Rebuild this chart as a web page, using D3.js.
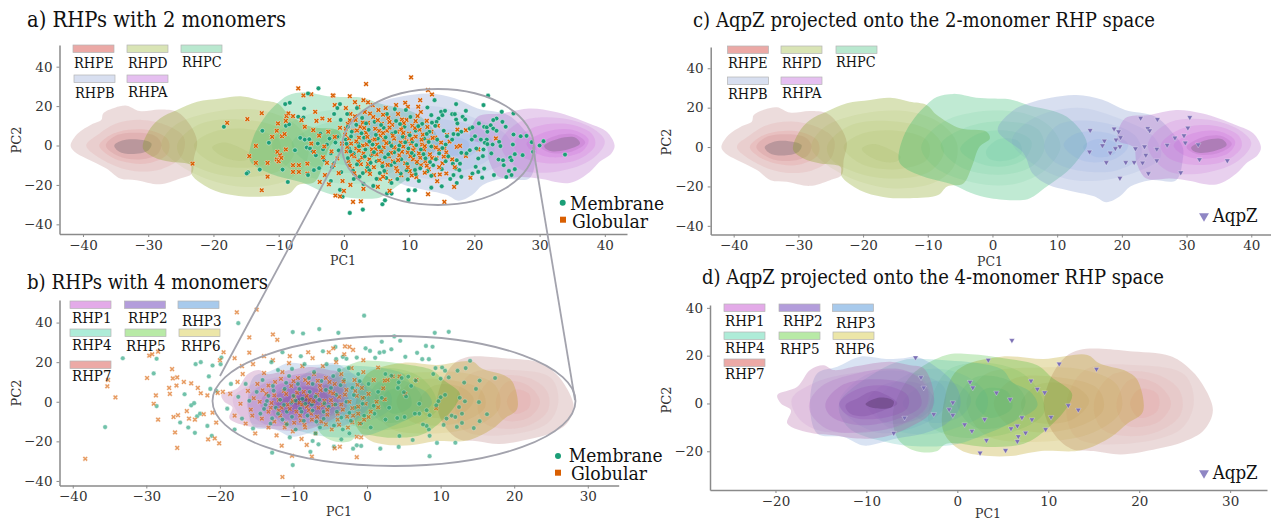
<!DOCTYPE html>
<html>
<head>
<meta charset="utf-8">
<title>RHP PCA</title>
<script src="https://cdnjs.cloudflare.com/ajax/libs/d3/7.8.5/d3.min.js"></script>
<style>
  html, body { margin: 0; background: #fff; overflow: hidden; }
  svg text { font-family: "DejaVu Serif", serif; fill: #111; }
  .tick text { fill: #333; font-size: 13.5px; }
  .tick line, .domain { stroke: #8a8a8a; }
  .domain { stroke-width: 1.5px; }
</style>
</head>
<body>
<div id="chart"></div>
<script>
// outer outlines and inner density levels, in PC1/PC2 units
const rhpeLevels = [
  [[-41.9,0],[-40.8,6.1],[-38.7,10.7],[-37.2,12.9],[-36.9,16.3],[-35.1,19.2],[-33.3,20.2],[-31.3,17.5],[-28.2,18.3],[-25.6,17.1],[-23.5,10],[-22.5,2],[-23,-6.6],[-23.3,-14.2],[-25.1,-16.8],[-28.2,-19.7],[-31.8,-17.6],[-34.3,-16.8],[-36.4,-11.7],[-39.5,-6.6],[-41.3,-3.2]],
  [[-39.5,0],[-37.5,6],[-35,11],[-31,13],[-27,10],[-24.5,4],[-25,-6],[-28,-12],[-32,-13],[-36,-9]],
  [[-37.5,0],[-36,5],[-33,8],[-29.5,7.5],[-27,3],[-27,-4],[-30,-9],[-34,-8],[-36.5,-4]],
  [[-36.5,0],[-35,5],[-32,6.5],[-29,5],[-28,1],[-28.5,-4],[-31,-7],[-34.5,-5.5]],
  [[-35.2,0],[-34,2.5],[-31.5,3],[-29.5,1],[-30,-2.5],[-32.5,-4.3],[-34.5,-3]]
];
const rhpdLevels = [
  [[-30.8,-1.5],[-30,7],[-28.2,13.7],[-25.6,18],[-22.5,22.2],[-18.9,23.9],[-15.8,25],[-12.8,23],[-10.2,21.4],[-8.6,16.3],[-5,9.5],[-0.9,7.8],[-0.4,4.4],[-2,0.2],[-3.2,-10],[-4.5,-18.5],[-7,-20],[-8.4,-24.4],[-12.8,-26],[-16.9,-25.3],[-20.5,-21.9],[-23.3,-15],[-23.5,-10],[-26.6,-8.3],[-29.2,-5.8]],
  [[-28,0],[-26,10],[-20,17],[-13,18],[-8,12],[-5.5,2],[-6,-10],[-9,-18],[-15,-21],[-21,-17],[-26,-8]],
  [[-25.5,1],[-22,11],[-15,13],[-9.5,8],[-7.5,-2],[-9.5,-12],[-15,-16],[-21,-13],[-25,-6]],
  [[-23,0],[-20,7],[-14,8],[-10,3],[-10,-6],[-14,-11],[-20,-9]],
  [[-20.2,-1],[-18.5,1.5],[-16,-1],[-14.2,-5],[-15,-7.5],[-18,-6.5]]
];
const rhpcLevels = [
  [[-14.5,-6.6],[-13.8,5],[-12,15],[-10.2,21.4],[-8.6,25.4],[-6,27],[-2.5,25],[0,24.6],[2.8,24.2],[5.4,21.4],[11.5,15.4],[14.6,1.9],[13.5,-5],[11.5,-12.5],[8.4,-20],[5.8,-26],[4.3,-27],[-0.3,-26],[-3.4,-23.2],[-6,-19.3],[-10.7,-15],[-13.8,-10]],
  [[-11,0],[-8,12],[-2,18],[5,17],[9,10],[10.5,0],[8,-12],[3,-19],[-3,-18],[-9,-10]],
  [[-8,1],[-4,10],[2,13],[7,9],[8,-1],[6,-10],[1,-14],[-5,-10]],
  [[-5,-1],[-2,7],[3,8],[6,3],[5,-6],[1,-10],[-3,-7]],
  [[-1,-2],[1,4],[4,3],[4.5,-3],[2,-7],[-0.5,-6]]
];
const rhpbLevels = [
  [[0.8,8.6],[3.3,18.8],[5.4,22],[9,25],[13,26.4],[17,24],[20.5,18.8],[25.2,15.4],[27.9,7],[29.4,0],[29.4,-6.6],[28.4,-16.8],[24.4,-16.8],[21.3,-20],[19.7,-25],[17.6,-28],[15.7,-25],[11.6,-21.9],[8.7,-19.3],[6.2,-13.4],[4.8,-3.2]],
  [[3,3],[6,14],[13,20],[20,14],[25,5],[26,-5],[21,-14],[13,-17],[7,-10]],
  [[8,1],[10,11],[16,13],[22,6],[23,-4],[19,-12],[12,-11],[9,-6]],
  [[11,1],[13,7],[18,7],[21,1],[19,-6],[14,-7]],
  [[14,0],[16,4],[19,2],[19,-3],[16,-5]]
];
const rhpaLevels = [
  [[41.5,0],[40.3,7],[37.6,11.2],[32.5,17],[28.4,18.8],[24.3,16.3],[20.5,14.6],[19.4,3.5],[21.8,0],[22.3,-8.3],[23.8,-16],[27.4,-16],[29.9,-16.8],[34.6,-19],[37.7,-13.4],[39.2,-8.3],[41,-4]],
  [[24,1],[27,12],[33,14],[38,9],[40,2],[38,-7],[33,-13],[27,-12]],
  [[26,1],[29,9],[34,11],[38,6],[38.5,0],[36,-7],[31,-9],[27,-5]],
  [[28,1],[31,7],[35,8],[37.5,3],[36.5,-3],[32,-6],[29,-3]],
  [[30,0],[32.5,5],[35.5,5.5],[37,1.5],[35,-3],[31.5,-3.5]],
  [[30.7,-0.3],[33,3.5],[35.5,4],[36.2,1],[34,-2.3],[31.5,-2.7]]
];
const rhp7Levels = [
  [[13.4,22.4],[15,23],[18.7,22],[23.4,19.9],[25.3,15.4],[26.9,8.4],[28.1,-2.8],[27.1,-11.2],[24.9,-16],[22,-18.9],[18,-21.3],[15,-19.9],[12.5,-18.9],[10.6,-12.6],[9.5,-1.4],[10.3,11],[11.9,19.6]],
  [[12,0],[14,14],[20,16],[25,12],[26,0],[24.5,-11],[18,-17],[13,-14]],
  [[15,0],[17,12],[22,12],[24.5,5],[24.5,-5],[21,-13],[16,-11]],
  [[17.5,0],[19,10],[22,8],[23.5,0],[22,-8],[18.5,-9]],
  [[19,0],[20,6],[22,4],[22,-3],[20,-6]]
];
const rhp6Levels = [
  [[-1.5,0],[0,14],[4.8,19.6],[9.5,18.6],[14.3,20.3],[15.6,16.8],[18.7,13.3],[19.8,9.8],[20.4,-3.5],[18.7,-8.4],[16.9,-14],[13.6,-19.6],[9.2,-19.9],[5.9,-22],[2.6,-21.7],[0.4,-19.6],[-1.5,-12]],
  [[1,0],[3,12],[9,15],[14,14],[17.5,8],[18,-3],[15,-12],[9,-16],[3,-13]],
  [[4,0],[6,10],[11,11],[15.5,6],[16,-3],[12,-11],[6,-10]],
  [[7,0],[9,8],[13,7],[14.5,1],[12.5,-7],[8,-7]]
];
const rhp5Levels = [
  [[-7,-2],[-5,12],[-1.2,20.3],[1.5,20.6],[5.1,18.9],[8.8,16],[10.3,11.2],[12.6,4.2],[12.1,-1.4],[9.7,-11.2],[7.3,-16.8],[3.3,-18.2],[-1.2,-16.8],[-2.3,-20],[-4.5,-20],[-6.3,-16],[-7,-10]],
  [[-3,0],[-1,14],[3,17],[7,13],[9,5],[9.5,-4],[6,-12],[0,-14],[-3,-9]],
  [[0,0],[2,11],[6,9],[7.5,1],[6,-8],[2,-10]],
  [[2,0],[3,6],[5.5,5],[6,-2],[3.5,-6]]
];
const rhp4Levels = [
  [[-13,0],[-9,13],[-5.9,18.2],[-3.7,18.6],[-1,18],[2,17],[5,14],[6,9],[8,5],[8.8,-1],[6,-8],[3,-13],[0,-17],[-4,-18],[-8,-16],[-12,-10]],
  [[-9,0],[-5,13],[-1,14],[2,9],[3.3,3],[3,-4],[0,-10],[-4,-13],[-8,-9]],
  [[-6,0],[-3,9],[0,8],[1.5,2],[0.5,-5],[-3,-8]]
];
const rhp3Levels = [
  [[-16.2,0],[-15.4,12.6],[-13.2,15.4],[-10.7,19.6],[-7.8,18.6],[-5.9,18.9],[-4.6,19.6],[-3,17],[-0.1,7],[0.3,-1.4],[-1.2,-8.4],[-3.7,-12.6],[-6.7,-14.7],[-9.6,-17.5],[-10.5,-17.5],[-12.5,-14],[-15.4,-12.6]],
  [[-13,0],[-10,12],[-5,13],[-1.5,7],[-1.5,-2],[-4,-9],[-9,-12]],
  [[-10,0],[-8,8],[-4,8],[-2.5,1],[-4,-6],[-8,-8]]
];
const rhp2Levels = [
  [[-16.3,0],[-15,7],[-11,12.6],[-5.9,14],[-3.4,7],[-3.4,-1.4],[-5.9,-8.4],[-9.6,-11.9],[-14,-11.2],[-16,-5]],
  [[-14.5,0],[-12.5,8],[-8,10],[-4.5,6],[-4,-1],[-7,-7],[-11,-9],[-14,-5]],
  [[-13,0],[-11,6],[-8,7.5],[-5.5,3.5],[-5.5,-2],[-9,-6.5],[-12,-5]],
  [[-12.3,-0.7],[-11,2.1],[-9.2,5.2],[-7.8,3.5],[-6.6,0],[-8.1,-2.8],[-10.3,-5.3],[-11.8,-4.2]],
  [[-10.1,-0.3],[-8.5,2.5],[-7,1],[-7.2,-1.5],[-9,-2]]
];
const rhp1Levels = [
  [[-19.8,3.5],[-17.6,7],[-16.2,14],[-14.7,16],[-13.6,14],[-11,15.7],[-7.4,17.5],[-5.2,16],[-3.7,14.7],[-2.6,4.2],[-3,-4.2],[-5.2,-9.8],[-8.1,-14],[-11,-14.7],[-13.6,-13.3],[-15.8,-12.6],[-18.7,-8.4],[-18.3,-2.8],[-19.4,0]],
  [[-18.2,2],[-15.5,9],[-11,13],[-6,14],[-3.3,8],[-3.3,-2],[-6,-9],[-11,-12],[-15.5,-11],[-17.5,-6]]
];

const twoMerNames = ["RHPE", "RHPD", "RHPC", "RHPB", "RHPA"];
const twoMerLevels = [rhpeLevels, rhpdLevels, rhpcLevels, rhpbLevels, rhpaLevels];
const twoMerSwatch = ["#eba9a6", "#d9e4b5", "#b9e8cf", "#d8dff0", "#e5bff0"];
const twoMerRamps = [
  ["#c08a8a", "#e87a7a", "#e86a6a", "#605868"],
  ["#809e12", "#809e12", "#78901a"],
  ["#1cb262", "#1cb262", "#20a880"],
  ["#7d95cd", "#7098e0", "#6090e8"],
  ["#b262c6", "#d058e0", "#d048e0", "#605868"]
];
const twoMerOuter = [0.3, 0.3, 0.28, 0.3, 0.3];
const twoMerInner = [0.15, 0.07, 0.08, 0.11, 0.17];
const fourMerNames = ["RHP1", "RHP2", "RHP3", "RHP4", "RHP5", "RHP6", "RHP7"];
// painted back to front
const fourMerOrder = ["RHP7", "RHP6", "RHP5", "RHP4", "RHP3", "RHP1", "RHP2"];
const fourMerLevels = { RHP1: rhp1Levels, RHP2: rhp2Levels, RHP3: rhp3Levels, RHP4: rhp4Levels, RHP5: rhp5Levels, RHP6: rhp6Levels, RHP7: rhp7Levels };
const fourMerSwatch = ["#e3aae8", "#b39ddb", "#a8caec", "#aeecd8", "#b8eaa6", "#ece6a8", "#eca9a6"];
const fourMerRamps = {
  RHP7: ["#bc8484", "#e87070", "#e86060"],
  RHP6: ["#b29800", "#b08a10", "#a87a20"],
  RHP5: ["#12ac00", "#10a830", "#109a50"],
  RHP4: ["#1eaa9a", "#2098a0", "#3080b0"],
  RHP3: ["#5f8acd", "#4a7cc8", "#4070c0"],
  RHP2: ["#a050b8", "#9040b0", "#8838b0", "#3a2048"],
  RHP1: ["#b262a5", "#b868c8"]
};
const fourMerOuter = { RHP7: 0.3, RHP6: 0.28, RHP5: 0.22, RHP4: 0.2, RHP3: 0.24, RHP1: 0.3, RHP2: 0.16 };
const fourMerInner = { RHP7: 0.08, RHP6: 0.08, RHP5: 0.08, RHP4: 0.08, RHP3: 0.09, RHP2: 0.2, RHP1: 0.12 };

const greenAEdge = [[-18.4,9.5],[-12.5,7.5],[-11.5,1.4],[-14.7,-13.6],[-14.9,-14.2],[-12.9,-12.2],[-9.4,-12.2],[-8.6,-18.5],[-8.3,21.7],[-9,21],[-5.5,26.4],[-3.9,29],[-8.9,10],[-8.4,10.7],[-7,14.6],[-6.1,18.8],[-6.2,14.2],[-6.7,3.9],[-7.5,-2.4],[-6,3],[-5.3,3.2],[-5.7,-1],[-5.2,-1.5],[-4.8,-3],[-4.3,-5],[-4,1],[-3.6,6],[-3.2,-2],[-3,-7.5],[-2.6,0.5],[-2.2,3.5],[-2,-4],[-1.5,-9],[-1.3,1.5],[-1,4.5],[-0.8,-2.5],[-0.5,13],[-0.4,-13.5],[-1.8,-11],[-3.8,-11.5],[-4.6,-12.5],[-5.5,-15],[-2,-18],[-0.6,-22.5],[-0.2,-26],[-1,19],[-0.6,21],[-1.5,16],
[22.1,25.3],[21.4,20.5],[24.2,17.1],[26,16.3],[17.2,21],[13.9,23],[12.8,19.3],[18.7,17.6],[0.9,-34.2],[2.9,-32.5],[5.9,-29.8],[6.3,-27.8],[9.9,-27.6],[6.6,-24.4],[7.3,-24.4],[9.9,-22.7],[10.9,-22.7],[13.4,-21.4],[15,-20.7],[17.3,-19],[30.6,2.2],[30,0],[28.8,1.7],[29,-3.2],[33.9,-4.6],[28,4.9],[27.1,4.7],[26,5.6],[27.4,-4.9],[26.2,-4.4],[25.9,0.5],[26.2,-12],[25.7,-15],[24.9,-16],[25.3,-12.9],[23,-15],[24.8,9.5],[24.3,12],[23.4,13.7],[22.9,12.9],
[14.9,17.1],[15.5,17.6],[15.1,15.4],[13.4,15.4],[14.5,13.7],[14.2,12],[16.6,15.9],[17,15.9],[18.2,14.6],[18.6,13.2],[17.2,13.2],[17.4,11.2],[20.7,11.2],[21.5,9.5],[21.9,9.2],[22.5,10.3],[22.9,8.6],[22,7],[23.4,7.5],[19.3,8.6],[19.7,9.2],[18,7],[16.8,5.8],[17.5,5.6],[20.1,4.7],[19.6,3],[21,3],[21.9,3],[23.8,1.9],[21.6,1.4],[22,0.7],[24,-0.3],[22.8,0.5],[20.3,-1.5],[19.3,-2.4],[18,-3.7],[18.8,-4],[21.4,-2],[22.6,-4],[21.3,-5.4],[20.6,-6.6],[23.7,-7.1],[24.4,-7.5],[24.5,-10],[25.5,-6.1],[25.7,-7.5],[21.5,-11.7],[20.2,-10.8],[20.6,-13.4],[19.7,-14.2],[21.2,-16.3],[17.3,-7.5],[17.8,-9.2],[16.7,-9.2],[17.2,-11.7],[17.7,-12.5],[16.8,-15],[18,-15.9]];
const greenACore = [[0.3,3],[0.8,-1.5],[1.2,7],[1.5,-4],[1.9,10.5],[2.2,1],[2.4,-7.5],[2.8,14],[3.1,4],[3.3,-2],[3.6,-11],[3.8,8],[4.2,-5],[4.4,0.5],[4.7,12],[5,-8],[5.2,3.5],[5.5,-14],[5.8,-2.5],[6.1,9],[6.3,-6],[6.6,16],[6.9,1.5],[7.2,-10],[7.4,6],[7.7,-3.5],[8,12.5],[8.2,-17],[8.5,0],[8.8,-7],[9,4.5],[9.3,9.5],[9.6,-12.5],[9.9,-1.5],[10.2,14.5],[10.5,2],[10.7,-5],[11,7.5],[11.2,-9],[11.5,-18],[11.8,-2],[12,11],[12.3,3.5],[12.5,-6.5],[12.8,-13],[13.1,7],[13.4,-0.5],[13.7,-10],[14,10],[14.3,3],[14.6,-4],[15,-12],[15.3,7.5],[15.6,0.5],[16,-5.5],[16.3,-17],[16.6,3],[1.5,-17],[3,-19.5],[0.5,16],[2,19],[4.5,-20.5],[0.8,-10],[6.5,-16.5],[2.9,-14],[7.8,18.5],[9.5,18],[11,-14.5],
[0.6,9.5],[3.4,11.2],[5.7,10.4],[8.6,10.9],[11.4,9.8],[13.5,11.6],[1.1,4.6],[2.7,6.2],[4.9,5.4],[6.4,4.1],[7.9,6.8],[10.1,5.2],[12.7,5.9],[15.8,4.7],[0.4,0.9],[2.3,-0.4],[3.9,2],[5.4,-0.8],[7.3,-0.2],[9.4,1.6],[11.1,0.2],[13,1.8],[15.1,-1.3],[1,-3],[3.2,-5.6],[4.6,-3.4],[6.8,-4.5],[8.4,-2.2],[10.4,-3.8],[12.2,-4.4],[14.1,-7],[0.6,-6.4],[2,-9.6],[4.1,-8.8],[5.9,-10.6],[7.8,-8.6],[9.7,-9.4],[11.7,-11.6],[13.2,-8.4],[15.6,-8],[1.4,-12.8],[3.9,-12.6],[6.2,-12.9],[8.7,-14.2],[10.9,-12.4],[13.4,-15.4],[2.4,-15.8],[5,-16.9],[7.3,-19],[9.8,-17.2]];
const orangeAEdge = [[-17.9,11.5],[-14.8,13.4],[-12.6,16.4],[-7,29],[-6.2,25.4],[-5,26],[-1.6,25.3],[-13.5,-0.2],[-14.5,-5.4],[-13.5,-8.8],[-11.7,-8.8],[-11.7,-15.8],[-12.6,-22.7],[-23.2,-9.2],[-11,4.4],[-10.3,7.5],[-10.1,11.2],[-9.5,4.7],[-9.1,5.8],[-10.2,-3.2],[-9.8,-4.9],[-10.3,-7.1],[-10,-8],[-9.6,-6.3],[-8.8,14.9],[-8.5,16.3],[-8.9,12.5],[-7.8,14.9],[-7.8,-10],[-6.9,-10],[-7.8,-13.4],[-6.9,-13.4],[-8.9,-2],[-6.5,12.9],[-6,9.5],[-5.6,-9.2],[-5.6,-14.2],[-4.4,17.1],[-4.2,12.5],[-3.3,13.7],[-2.2,12.9],[-1.4,20.5],[-3.7,-18.5],[-2.3,-19.7],[-1.3,-25.4],[-2.9,-15],[-4.7,7.8],[-5,1],[-4.6,-3.2],[-3.2,-6],[-1.6,-10],[-1.4,4.4],[-3.8,5],[-3,-0.5],[-2.4,7],[-1.9,-3],[-1,-6.5],[-0.6,9],[-0.3,1],[-0.8,-14],[-2.6,-8.8],
[3.4,31.2],[10.3,34.6],[12.9,28.1],[13.5,25.9],[11.7,23],[9.4,21.7],[9.8,19.7],[11.4,19.7],[11.8,17],[-1.7,25.4],[0.9,25],[1.7,22],[3,23],[3.7,21.9],[15.4,-28.6],[12.9,-24.7],[1.4,-28.6],[2.6,-28.3],[-0.6,-25.8],[16.9,-21],[19.4,-16.3],[14.3,-18.1],[15.7,-14.2],[14.7,-14.7],[17.4,8.1],[18.7,7.8],[20.6,-2],[23.3,3.6],[18.7,-5.3],[15.8,-5.8],[17.3,-0.7],[17.8,-0.2],[15.8,5.3]];
const orangeACore = [[0.2,5.5],[0.4,-3],[0.6,11],[0.7,-8],[1,16],[1.1,1],[1.3,-12],[1.4,7.5],[1.6,-5.5],[1.8,13],[1.9,-1.5],[2.1,-16],[2.3,4],[2.5,9.5],[2.6,-9.5],[2.9,0],[3,-4],[3.2,17],[3.4,6.5],[3.5,-13],[3.7,11.5],[3.9,-7],[4.1,2.5],[4.3,-2],[4.5,14.5],[4.6,-11],[4.8,8.5],[5,-4.5],[5.1,0.5],[5.3,18],[5.5,-17],[5.6,5],[5.8,11],[5.9,-9],[6.1,-1],[6.2,3],[6.4,-13.5],[6.6,7.5],[6.8,14],[6.9,-5.5],[7.1,-18],[7.2,0.5],[7.4,10.5],[7.5,-8],[7.7,3.5],[7.9,-2],[8,-11.5],[8.2,7],[8.3,16],[8.5,-5],[8.7,1.5],[8.8,-15],[9,9.5],[9.1,-0.5],[9.3,4],[9.4,-9],[9.6,13],[9.8,-3.5],[10,6],[10.1,-13],[10.3,1],[10.5,10],[10.6,-7],[10.8,-1],[11,4.5],[11.1,-16],[11.3,15],[11.5,-4],[11.6,8],[11.8,-10],[12,0.5],[12.1,5.5],[12.3,-2],[12.5,-8],[12.7,12.5],[12.9,2.5],[13,-12],[13.2,-4.5],[13.4,7],[13.6,-0.5],[13.8,-15],[14,4],[14.2,-6.5],[14.4,10],[14.6,-2],[14.9,1.5],[15.1,-9],[15.4,-1.5],[15.7,-3.5],[16.2,2],[16.6,-7],[17,-11],[-0.2,-18],[1,-20],[3,-22],[5.2,-21],[7,-23],[0,-23],[2.2,19.5],[4.4,20.5],[6.4,19],[8,20.5],[0.3,19],
[1.7,14.8],[4,16.2],[6,15.6],[8.9,13.2],[0.9,12.8],[2.9,11.6],[5.2,12.9],[7,11.9],[9.2,11.4],[11,12.4],[0.3,8.6],[2,7.6],[3.1,8.9],[5.4,7.4],[7,9.1],[8.8,8.1],[10.9,8.9],[12.8,9.4],[0.8,3.6],[1.9,2.1],[3.6,4.4],[4.7,3.1],[6,6.3],[7.5,5],[9.1,6.4],[10.4,3.4],[11.9,3],[13.6,3.9],[0.5,-0.7],[2.3,-2.6],[3.5,0.6],[4.9,-1.8],[6.5,1.2],[7.7,-0.9],[9.6,2.1],[10.6,-2.4],[12.4,-0.3],[14.1,-1],[1.2,-4.7],[2.8,-6.1],[4.4,-4.2],[5.7,-3.1],[7.2,-3.7],[8.9,-3.2],[10.2,-5.4],[11.7,-6.2],[13.5,-6.4],[15.3,-5.6],[0.9,-10.3],[2.2,-8.1],[3.7,-9.4],[5.4,-7.6],[6.7,-9.8],[8.3,-7.4],[9.8,-11.1],[11.2,-8.3],[12.7,-10.2],[14.6,-11],[1.6,-14.1],[4,-14.4],[6,-15.8],[8.2,-13],[10.4,-15.2],[12.4,-13.8]];

const greenBEdge = [[-17.5,39.7],[-33.2,22],[-35.6,-12.8],[-29,14.3],[-28.6,-2.2],[-28.6,21.7],[-24.8,3.8],[-25.4,-10.5],[-24.3,-13],[-23.4,-15.7],[-23.9,-1.8],[-23.5,-0.7],[-23.1,-7.3],[-22.7,-6],[-23.3,19],[-22.6,20],[-21.5,12.8],[-21,18.3],[-19.8,22.3],[-19.9,19],[-21.3,6.5],[-20.5,5.5],[-21.7,-12.2],[-21.1,-17.2],[-10.1,35.2],[-8.7,34.5],[-6.5,36.7],[-3.9,34.8],[-12.9,-25.7],[-10.1,-32],[-7.7,-25.3],[-6.6,-21.5],[-7.4,-19.8],[-4.5,-22.7],
[-0.4,43.5],[9.2,34.8],[11.1,35.3],[3.7,33],[2,30.3],[4.5,30.8],[8,28.2],[8.9,27.8],[6.8,24.7],[7.5,21.5],[8.4,21.5],[5.2,22.7],[3.3,26.5],[2.3,25.2],[1.7,24.8],[0.4,25.7],[-0.2,27],[1.1,22.2],[-1.4,22.3],[-2.8,21.7],[-3.3,22.7],[-4.2,21.5],[-4.3,27.7],[14,20.7],[17.4,12],[15.3,10.7],[14.8,6.5],[13.4,17],[12.3,15.7],[10.2,17.3],[10.6,15.7],[9.3,17],[11.1,12.3],[10,11.7],[13.2,9.7],[15.2,-0.2],[13.3,0.2],[12.6,2],[12.5,-2.7],[12.9,-6],[16.3,-6.3],[15.3,-9.8],[14.5,-13.3],[12.9,-10.7],[12.2,-12.7],[10.4,-11.7],[10.8,-8.5],[11.5,-7],[12,-7.7],[12,-20.7],[9.5,-20.8],[8.5,-27.5],[4.3,-22.8],[1.8,-23.7],[-0.8,-22.3],[-1.4,-22],[-1.9,-23.7],[6.2,-19.3],[4.4,-17.3],[8.5,-17.2],[8.4,-14],[8.1,-12.2],[7.6,-11.5],[10.6,3.5],[10,2.3],[9.4,-1.8],[9.7,0.3],[8.1,-4.3],[8.5,-6.8],[7.1,-6],[6.5,-6],[5.1,-7.7],[4.1,-8.2],[7.1,-1],[5.3,2.7],[5,4.8],[5.6,12.7],[4.7,12],[4.2,7],[4.3,9.8],[3.3,13.2],[6,8],[6.6,10.7],[9,14],[2.5,14]];
const greenBCore = [[3,-3],[2.5,-9],[1.5,5],[1,-6],[0.5,-13],[0.2,9],[-0.4,2],[-0.8,-11],[-1.2,14],[-1.6,-3],[-2,7],[-2.4,-16],[-2.8,0],[-3.1,11],[-3.5,-8],[-3.8,16],[-4.2,3.5],[-4.5,-12],[-4.9,7],[-5.2,-2.5],[-5.5,19],[-5.9,-5],[-6.2,10.5],[-6.5,1],[-6.9,-10],[-7.2,15],[-7.5,-1.5],[-7.8,5],[-8.1,-7],[-8.5,19],[-8.8,1.5],[-9.1,-3.5],[-9.4,9],[-9.7,-14],[-10,3],[-10.3,-0.5],[-10.6,13],[-10.9,-5],[-11.2,6.5],[-11.5,-9],[-11.8,1],[-12.1,16],[-12.4,-3],[-12.8,8],[-13.1,-11],[-13.4,3],[-13.8,-1.5],[-14.2,11],[-14.5,-6],[-15,5],[-15.5,-13.5],[-16,0.5],[-16.5,9],[-17,-8.5],[-17.5,2.5],[-18,-14],[-18.5,9],[-19,-3.5],[-13,20],[-9,23],[-6,25.5],[-11.5,25],[-3.5,-19],[-7,-16],[-10.5,-18],
[-12.7,5.6],[-11,9.6],[-9.2,6.4],[-7.4,9],[-5.6,6],[-3.6,8.4],[-1.8,3.4],[-13.6,0.4],[-11.3,-1.6],[-9.7,0.6],[-8.4,-1],[-7,2.6],[-5.8,-0.8],[-4.3,-1.4],[-2.4,-5.6],[-0.6,-1],[-14,-3.6],[-12.1,-6],[-10.2,-7.6],[-8.9,-5],[-7.4,-4.4],[-5.9,-8.6],[-4.1,-5],[-2.2,-9.6],[-0.4,-7],[-12.9,-8.4],[-10.9,-11.4],[-8.6,-9.6],[-6.4,-13],[-3.3,-14],[0.9,-2],[2,2],[-1,10.4],[-7.9,12],[-4.6,13],[-2.5,17],[-10.2,16.6]];
const orangeBEdge = [[-38.3,-28.8],[-34.2,2.2],[-35.3,7.8],[-35.2,11],[-29.9,12],[-29.6,23.3],[-29.2,24],[-28.4,25.3],[-28.7,3.2],[-29,-1],[-28.4,-9],[-26.5,16.5],[-26.4,11.8],[-25.8,12.3],[-25.9,8.2],[-26.9,7],[-26.8,4],[-24.9,10],[-23.9,9.3],[-23,7],[-22.6,4.3],[-21.7,3.2],[-26.3,-7.7],[-25.7,-6.8],[-26.1,-15.5],[-25.8,-23.3],[-24.2,-8.5],[-24.5,-4.7],[-23.4,-9],[-22.2,-6.3],[-21.6,-19],[-20.7,-18.5],[-20.1,-21],[-20.5,-10.5],[-21,-5.5],[-17.7,45.2],[-15,46.5],[-16,32.5],[-16,24.8],[-12.8,34],[-12.2,31.3],[-11.5,-38],[-10.2,-27.3],[-7.5,-27.7],[-11.6,-22.2],[-8.9,-18.8],[-8.2,-21.8],[-20,21],[-19.5,25],[-18,22],[-20.3,4.5],[-19.6,5],
[6.7,11],[5.2,4],[9.4,-3.3],[2.8,11],[2.4,10.7],[3.5,12.8],[4.4,12.8],[1.5,17.3],[2.2,6.8],[2.4,1.2],[1.5,-2.8],[0.2,-7.7],[-1.4,-17.7],[-0.8,-18],[-1.4,-28],[-3.7,-22.7],[-4.4,-23.5],[-2.4,27.7],[-1.9,26.2],[-4.6,27]];
const orangeBCore = [[-18.6,4],[-18,-7],[-17.6,10],[-17.2,-1],[-16.9,14],[-16.5,-11],[-16.2,5.5],[-15.8,-4],[-15.5,19],[-15.2,-16],[-14.9,9],[-14.6,0],[-14.3,-8.5],[-14,14.5],[-13.7,4],[-13.4,-13],[-13.1,-3],[-12.8,21],[-12.5,10],[-12.3,-17],[-12,1],[-11.8,-7],[-11.5,15],[-11.3,5.5],[-11,-11],[-10.8,-1.5],[-10.6,19.5],[-10.3,8],[-10.1,-15],[-9.9,2.5],[-9.6,-5],[-9.4,12],[-9.2,-0.5],[-9,-9.5],[-8.8,18],[-8.6,5],[-8.4,-13],[-8.2,-2.5],[-8,9.5],[-7.8,1],[-7.6,-6],[-7.4,22],[-7.2,14],[-7,-16],[-6.8,3.5],[-6.6,-3],[-6.4,8],[-6.2,-10],[-6,18],[-5.8,0.5],[-5.6,12],[-5.4,-6.5],[-5.2,25],[-5,5],[-4.8,-14],[-4.6,-1.5],[-4.4,9],[-4.2,20],[-4,-9],[-3.8,2.5],[-3.5,14],[-3.3,-4],[-3.1,24],[-2.8,6],[-2.6,-13],[-2.4,0],[-2.1,17],[-1.9,-7],[-1.7,11],[-1.4,3],[-1.2,-2.5],[-1,-11],[-0.7,7],[-0.5,15],[-0.2,-1],[0.2,4],[0.5,-5],[0.9,11],[1.3,0],[-17,18],[-14,23],[-10.5,23],[-8,25],[-3,28],[-0.5,21],
[-13.4,8.2],[-11.7,11.6],[-10,10.4],[-8.4,11],[-6.7,10.6],[-5.1,10],[-3.2,10.2],[-1.3,8.6],[-14.2,5.8],[-12.6,3.2],[-11,3.9],[-9.5,4.6],[-8.2,3],[-6.3,5.9],[-4.6,4.2],[-3,3.6],[-1.6,5.4],[-15.4,1.8],[-13,-0.6],[-11.6,-3],[-10.1,0.4],[-8.8,-1.4],[-7.3,0.2],[-6,-1.6],[-4.9,0.8],[-3.5,-1.4],[-2,-3.2],[-0.6,2],[-15.6,-7],[-13.4,-5],[-12,-4.4],[-10.5,-3.6],[-9.1,-7],[-7.9,-4.2],[-6.8,-7.6],[-5.4,-4],[-4,-6],[-2.7,-7.5],[-1.2,-6],[-12.6,-10],[-11.2,-13],[-9.9,-10.6],[-8.5,-11.6],[-7.5,-9],[-5.6,-11.4],[-3.8,-11.6],[-2,-10.4],[-0.4,-9]];

const aqpzC = [[15.1,8.5],[18.8,9.3],[19.5,7.8],[22.9,14.7],[25.5,14.1],[30.5,15.1],[30.2,9.7],[24,9.5],[24.3,8.3],[29.6,5.8],[28.2,4.7],[19.8,4.9],[19.1,3.7],[17.3,3.1],[17,0.8],[19.7,0.2],[19,-0.7],[22.1,-0.8],[23.5,0.2],[25.4,-1],[27,1],[29.8,2.2],[31.8,1.2],[15,-2.4],[18.2,-2.9],[23.7,-4.1],[17.6,-7.8],[20.6,-7.8],[21.9,-7.8],[23.2,-8],[25.4,-6.9],[32,-6.3],[36.3,-6.9],[24.1,-13.4],[29.1,-13],[19.7,-15.8]];
const aqpzD = [[-4.6,19.2],[-4,10.9],[-3.7,6.6],[-0.5,0.4],[-0.9,-2.5],[-0.5,-4.9],[-2.6,-4.5],[-5.8,-6],[-7,-12.4],[0.8,-8.8],[1.6,-11.5],[3,-6.6],[3.2,-15.4],[2.5,-20.7],[1.4,9],[1.7,6.6],[3.4,18.2],[6,26.4],[11.2,16.6],[15.3,14.4],[8.1,9.5],[8.8,6],[9.6,4.6],[4.3,4.5],[5.8,1.7],[12.2,-0.8],[13.3,-2.7],[7.1,-5.9],[8.2,-6.7],[10.3,-5.7],[6.6,-9.4],[5.9,-10.5],[9.7,-10.8],[7.5,-12.3],[6.7,-13.8],[6.6,-15.8],[5.3,-19.6]];

const xTicksA = [-40, -30, -20, -10, 0, 10, 20, 30, 40];
const xTicksB = [-40, -30, -20, -10, 0, 10, 20, 30];
const xTicksD = [-20, -10, 0, 10, 20, 30];
const yTicksABC = [-40, -20, 0, 20, 40];
const yTicksD = [-20, 0, 20, 40];

const green = "#1b9e77", orange = "#d95f02", aqpzColor = "#7b6fb4";

const svg = d3.select("#chart").append("svg").attr("width", 1271).attr("height", 520).style("display", "block");

const smooth = d3.curveCatmullRomClosed.alpha(0.5);
const crossPath = d3.symbol().type(d3.symbolCross).size(17)();
const dotPath = d3.symbol().type(d3.symbolCircle).size(17)();

function panel(cfg) {
  const x = d3.scaleLinear().domain(cfg.xDomain).range(cfg.xRange);
  const y = d3.scaleLinear().domain(cfg.yDomain).range(cfg.yRange);
  const g = svg.append("g");
  const line = d3.line().x(d => x(d[0])).y(d => y(d[1])).curve(smooth);

  cfg.blobs.forEach(b => {
    const ramp = d3.interpolateRgbBasis(b.ramp);
    g.append("g").selectAll("path").data(b.levels).join("path")
      .attr("d", line)
      .attr("fill", (d, i) => ramp(b.levels.length > 1 ? i / (b.levels.length - 1) : 0))
      .attr("fill-opacity", (d, i) => i === 0 ? b.outer : (i === b.levels.length - 1 && b.ramp.length > 3 ? 0.3 : b.inner));
  });

  g.append("g").attr("transform", `translate(0,${cfg.yRange[0]})`)
    .call(d3.axisBottom(x).tickValues(cfg.xTicks).tickSize(3).tickSizeOuter(0).tickPadding(3));
  g.append("g").attr("transform", `translate(${cfg.xRange[0]},0)`)
    .call(d3.axisLeft(y).tickValues(cfg.yTicks).tickSize(3).tickSizeOuter(0).tickPadding(4));

  g.append("text").attr("x", cfg.xLabel[0]).attr("y", cfg.xLabel[1]).attr("text-anchor", "middle")
    .style("font-size", "12.5px").style("fill", "#333").text("PC1");
  g.append("text").attr("transform", `translate(${cfg.yLabel[0]},${cfg.yLabel[1]}) rotate(-90)`).attr("text-anchor", "middle")
    .style("font-size", "13px").style("fill", "#333").text("PC2");

  // membrane and globular marks are interleaved, neither class sits fully on top
  if (cfg.green) {
    const n = Math.max(cfg.green.length, cfg.orange.length);
    const marks = [];
    for (let i = 0; i < n; i++) {
      if (cfg.orange[i]) marks.push({ p: cfg.orange[i], kind: "g" });
      if (cfg.green[i]) marks.push({ p: cfg.green[i], kind: "m" });
    }
    g.append("g").selectAll("path").data(marks).join("path")
      .attr("d", d => d.kind === "m" ? dotPath : crossPath)
      .attr("transform", d => `translate(${x(d.p[0])},${y(d.p[1])})` + (d.kind === "g" ? " rotate(45)" : ""))
      .attr("fill", d => d.kind === "m" ? green : orange)
      .attr("stroke", "#fff").attr("stroke-width", 0.4).attr("opacity", cfg.pointAlpha);
  }
  if (cfg.aqpz) {
    const tri = d3.symbol().type(d3.symbolTriangle).size(13)();
    g.append("g").selectAll("path").data(cfg.aqpz).join("path")
      .attr("d", tri)
      .attr("transform", d => `translate(${x(d[0])},${y(d[1])}) rotate(180)`)
      .attr("fill", aqpzColor).attr("stroke", "#fff").attr("stroke-width", 0.3);
  }

  g.append("g").selectAll("rect").data(cfg.legend).join("rect")
    .attr("x", d => d.sx).attr("y", d => d.sy).attr("width", 41).attr("height", 7.5)
    .attr("fill", d => d.color).attr("stroke", "#b4b4b4").attr("stroke-width", 0.7);
  g.append("g").selectAll("text").data(cfg.legend).join("text")
    .attr("x", d => d.tx).attr("y", d => d.ty)
    .attr("textLength", 39.5).attr("lengthAdjust", "spacingAndGlyphs")
    .style("font-size", "15.5px").text(d => d.name);

  g.append("text").attr("x", cfg.title.x).attr("y", cfg.title.y)
    .attr("textLength", cfg.title.w).attr("lengthAdjust", "spacingAndGlyphs")
    .style("font-size", cfg.title.size + "px").text(cfg.title.text);
}

// swatch x/y and label x/y for each legend entry
const legendSpotsA = [[73,45,74,68],[127,45,128,68],[181,45,182,67],[74,75,75,98],[127,75,128,97]];
const legendSpotsC = [[727.5,46,728,68],[781,46,782,68],[836,46,836,67],[727.5,77,728,99],[781,77,782,98]];
const legendSpotsB = [[70,301,72,323],[124.5,301,128,323],[178,301,182,326],[70,329,72,350],[125,329,126,351],[179,329,181,351],[70,361,72,381]];
const legendSpotsD = [[724,304,725,326],[779,304,783,326],[832.5,304,836,328],[724,332,725,353],[779,332,780,354],[833,332,835,354],[724,359,725,379]];
const legendOf = (names, colors, spots) => names.map((name, i) => ({ name, color: colors[i], sx: spots[i][0], sy: spots[i][1], tx: spots[i][2], ty: spots[i][3] }));

const twoMerBlobs = twoMerNames.map((n, i) => ({ levels: twoMerLevels[i], ramp: twoMerRamps[i], outer: twoMerOuter[i], inner: twoMerInner[i] }));
const fourMerBlobs = fourMerOrder.map(n => ({ levels: fourMerLevels[n], ramp: fourMerRamps[n], outer: fourMerOuter[n], inner: fourMerInner[n] }));

panel({
  xDomain: [-43.6, 43.4], xRange: [59.5, 627], yDomain: [-44.9, 51], yRange: [234, 45],
  xTicks: xTicksA, yTicks: yTicksABC, xLabel: [343, 265], yLabel: [21, 140],
  blobs: twoMerBlobs, green: greenAEdge.concat(greenACore), orange: orangeAEdge.concat(orangeACore), pointAlpha: 1,
  legend: legendOf(twoMerNames, twoMerSwatch, legendSpotsA),
  title: { x: 27, y: 27, w: 259, size: 22.5, text: "a) RHPs with 2 monomers" }
});
panel({
  xDomain: [-41.8, 34.2], xRange: [59.5, 618.7], yDomain: [-42.3, 51.4], yRange: [485.5, 300],
  xTicks: xTicksB, yTicks: yTicksABC, xLabel: [339, 516], yLabel: [21, 393],
  blobs: fourMerBlobs, green: greenBEdge.concat(greenBCore), orange: orangeBEdge.concat(orangeBCore), pointAlpha: 0.62,
  legend: legendOf(fourMerNames, fourMerSwatch, legendSpotsB),
  title: { x: 27, y: 289, w: 241, size: 21, text: "b) RHPs with 4 monomers" }
});
panel({
  xDomain: [-43.55, 43.05], xRange: [710.7, 1271], yDomain: [-44.4, 50.8], yRange: [234.5, 47],
  xTicks: xTicksA, yTicks: yTicksABC, xLabel: [990, 266], yLabel: [671, 142],
  blobs: twoMerBlobs, aqpz: aqpzC,
  legend: legendOf(twoMerNames, twoMerSwatch, legendSpotsC),
  title: { x: 693, y: 27, w: 462, size: 21, text: "c) AqpZ projected onto the 2-monomer RHP space" }
});
panel({
  xDomain: [-27.2, 34.05], xRange: [710, 1267], yDomain: [-36.2, 41.2], yRange: [490, 305],
  xTicks: xTicksD, yTicks: yTicksD, xLabel: [988, 518], yLabel: [671, 400],
  blobs: fourMerBlobs, aqpz: aqpzD,
  legend: legendOf(fourMerNames, fourMerSwatch, legendSpotsD),
  title: { x: 702, y: 284, w: 462, size: 21, text: "d) AqpZ projected onto the 4-monomer RHP space" }
});

// zoom ellipses and the two connecting lines
const guide = svg.append("g").attr("fill", "none").attr("stroke", "#a3a3ad").attr("stroke-width", 1.8);
guide.append("ellipse").attr("cx", 438).attr("cy", 147).attr("rx", 96).attr("ry", 58);
guide.append("ellipse").attr("cx", 394).attr("cy", 401).attr("rx", 181.5).attr("ry", 65);
guide.append("line").attr("x1", 343).attr("y1", 147).attr("x2", 220).attr("y2", 376);
guide.append("line").attr("x1", 533).attr("y1", 147).attr("x2", 575).attr("y2", 400);

// marker keys
const key = svg.append("g").style("font-size", "18px");
function keyText(tx, ty, w, label) {
  key.append("text").attr("x", tx).attr("y", ty)
    .attr("textLength", w).attr("lengthAdjust", "spacingAndGlyphs").text(label);
}
function membraneKey(cx, cy, tx, ty) {
  key.append("circle").attr("cx", cx).attr("cy", cy).attr("r", 3).attr("fill", green);
  keyText(tx, ty, 94, "Membrane");
}
function globularKey(cx, cy, tx, ty) {
  key.append("rect").attr("x", cx - 3).attr("y", cy - 3).attr("width", 6).attr("height", 6).attr("fill", orange);
  keyText(tx, ty, 76, "Globular");
}
function aqpzKey(cx, cy, tx, ty) {
  key.append("path").attr("d", d3.symbol().type(d3.symbolTriangle).size(42)())
    .attr("transform", `translate(${cx},${cy}) rotate(180)`).attr("fill", "#8f86c4");
  keyText(tx, ty, 45, "AqpZ");
}
membraneKey(562.7, 202.7, 570, 210);
globularKey(563, 219.7, 572, 228);
membraneKey(558, 456, 568.7, 462);
globularKey(558, 472.7, 571, 480);
aqpzKey(1204, 216, 1212.7, 221.7);
aqpzKey(1204, 473, 1212.7, 479);
</script>
</body>
</html>
